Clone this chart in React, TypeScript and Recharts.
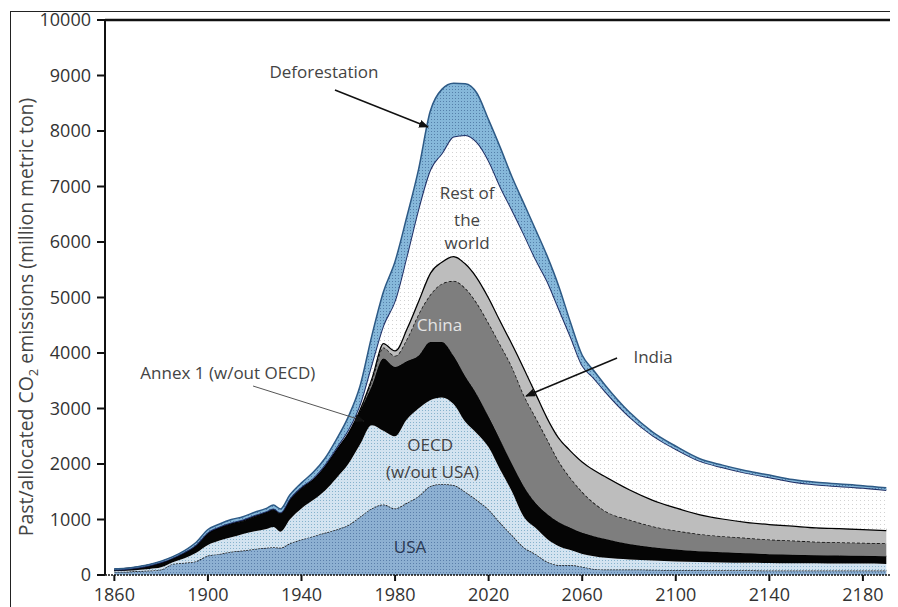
import { Area, AreaChart, Label, ReferenceDot, ReferenceLine, XAxis, YAxis } from "recharts";

const FONT = "'Open Sans', 'Liberation Sans', sans-serif";

const years = [
  1860, 1865, 1870, 1875, 1880, 1885, 1890, 1895, 1900, 1905, 1910, 1915, 1920, 1925, 1928, 1931,
  1935, 1940, 1945, 1950, 1955, 1960, 1965, 1970, 1975, 1980, 1985, 1990, 1995, 2000, 2005, 2010,
  2015, 2020, 2025, 2030, 2035, 2040, 2045, 2050, 2055, 2060, 2065, 2070, 2080, 2090, 2100, 2110,
  2120, 2130, 2140, 2150, 2160, 2170, 2180, 2190,
];

// million metric ton per layer (stacked bottom -> top)
const usa = [
  60, 60, 70, 80, 100, 200, 220, 250, 350, 380, 420, 440, 470, 490, 500, 490,
  570, 640, 700, 760, 820, 900, 1050, 1200, 1270, 1200, 1300, 1420, 1600, 1640, 1620, 1500,
  1350, 1180, 940, 720, 500, 380, 240, 180, 180, 150, 110, 100, 100, 95, 90, 90,
  85, 85, 80, 80, 80, 80, 80, 80,
];
const oecdNoUsa = [
  10, 15, 20, 30, 40, 30, 80, 150, 190, 240, 260, 300, 320, 340, 365, 290,
  430, 560, 650, 760, 930, 1100, 1300, 1500, 1330, 1300, 1500, 1580, 1550, 1560, 1460, 1260,
  1200, 1120, 950, 780, 550, 470, 410, 340, 270, 230, 230, 210, 180, 165, 155, 145,
  140, 135, 135, 130, 130, 125, 125, 120,
];
const annex1 = [
  20, 25, 35, 55, 80, 70, 100, 130, 210, 230, 240, 230, 260, 290, 305, 320,
  350, 360, 360, 430, 500, 550, 600, 700, 1300, 1250, 1050, 950, 1050, 1000, 870, 820,
  700, 550, 540, 500, 550, 450, 450, 430, 400, 380, 360, 340, 280, 240, 215, 195,
  185, 170, 160, 155, 145, 145, 140, 140,
];
const china = [
  3, 3, 3, 3, 4, 4, 5, 6, 6, 7, 8, 10, 10, 10, 10, 10,
  10, 10, 10, 10, 10, 10, 30, 100, 200, 200, 400, 750, 850, 1050, 1350, 1590,
  1650, 1690, 1720, 1750, 1650, 1550, 1350, 1100, 900, 740, 600, 500, 440, 380, 340, 310,
  290, 280, 265, 255, 245, 240, 235, 230,
];
const india = [
  3, 3, 3, 3, 4, 4, 5, 6, 6, 7, 8, 10, 10, 10, 10, 10,
  10, 10, 10, 10, 10, 10, 20, 60, 80, 100, 200, 250, 400, 400, 450, 450,
  470, 470, 440, 430, 500, 450, 400, 430, 500, 550, 600, 630, 550, 480, 420, 360,
  320, 290, 280, 270, 260, 255, 250, 240,
];
const restOfWorld = [
  4, 4, 4, 4, 4, 4, 5, 8, 8, 8, 9, 10, 10, 10, 10, 10,
  10, 10, 20, 20, 30, 50, 80, 240, 320, 900, 1300, 1650, 1850, 1950, 2150, 2310,
  2430, 2460, 2410, 2400, 2400, 2400, 2450, 2320, 2050, 1730, 1650, 1520, 1310, 1160, 1050, 960,
  920, 880, 840, 790, 770, 755, 740, 720,
];
const deforestation = [
  10, 10, 15, 15, 18, 18, 25, 40, 50, 48, 55, 50, 50, 50, 60, 60,
  60, 70, 100, 110, 150, 230, 320, 500, 600, 700, 700, 700, 1050, 1150, 960, 920,
  880, 730, 700, 590, 550, 530, 450, 400, 250, 180, 130, 110, 80, 60, 50, 40,
  40, 40, 40, 40, 40, 40, 40, 40,
];

const yearTicks = [1860, 1900, 1940, 1980, 2020, 2060, 2100, 2140, 2180];
const valueTicks = [0, 1000, 2000, 3000, 4000, 5000, 6000, 7000, 8000, 9000, 10000];

const rows = years.map((year, i) => ({
  year,
  usa: usa[i],
  oecd: oecdNoUsa[i],
  annex: annex1[i],
  china: china[i],
  india: india[i],
  row: restOfWorld[i],
  defo: deforestation[i],
}));

function YTitle() {
  return (
    <text
      transform="rotate(-90)"
      x={-309}
      y={25}
      textAnchor="middle"
      fontSize={19.4}
      fill="#444"
      fontFamily={FONT}
    >
      Past/allocated CO
      <tspan fontSize={13} dy={5}>2</tspan>
      <tspan dy={-5}> emissions (million metric ton)</tspan>
    </text>
  );
}

function note(text: string, fill = "#444") {
  return { value: text, position: "center" as const, fill, fontSize: 17, fontFamily: FONT };
}

export default function App() {
  return (
    <div style={{ position: "relative", width: 890, height: 599, overflow: "hidden", fontFamily: FONT }}>
      <div
        style={{
          position: "absolute",
          left: 2,
          top: 3,
          width: 1000,
          height: 800,
          borderLeft: "1px solid #222",
          borderTop: "1px solid #222",
        }}
      />
      <div style={{ position: "absolute", left: 0, top: 0 }}>
        <AreaChart width={890} height={599} data={rows} margin={{ top: 12, right: 0, left: 0, bottom: 0 }}>
          <defs>
            <pattern id="pUsa" width="3" height="3" patternUnits="userSpaceOnUse">
              <rect width="3" height="3" fill="#8db0d2" />
              <rect width="1" height="1" fill="#5a7eaa" />
            </pattern>
            <pattern id="pOecd" width="3" height="3" patternUnits="userSpaceOnUse">
              <rect width="3" height="3" fill="#d3e3f0" />
              <rect width="1" height="1" fill="#86b2cc" />
            </pattern>
            <pattern id="pRow" width="4" height="4" patternUnits="userSpaceOnUse">
              <rect width="4" height="4" fill="#ffffff" />
              <rect width="1" height="1" fill="#d2d2d2" />
            </pattern>
            <pattern id="pDefo" width="3" height="3" patternUnits="userSpaceOnUse">
              <rect width="3" height="3" fill="#86b8da" />
              <rect width="1" height="1" fill="#5580aa" />
            </pattern>
            <marker
              id="arrowHead"
              markerWidth="10"
              markerHeight="8"
              refX="9"
              refY="4"
              orient="auto"
              markerUnits="userSpaceOnUse"
            >
              <path d="M0,0 L10,4 L0,8 z" fill="#111" />
            </marker>
          </defs>
          <XAxis
            dataKey="year"
            type="number"
            domain={[1856, 2195]}
            ticks={yearTicks}
            tickSize={6}
            tickMargin={7}
            height={32}
            axisLine={{ stroke: "#111", strokeWidth: 1.5, strokeDasharray: "2 1" }}
            tickLine={{ stroke: "#111", strokeWidth: 2 }}
            tick={{ fontSize: 18, fill: "#333", fontFamily: FONT }}
          />
          <YAxis
            type="number"
            domain={[0, 10000]}
            ticks={valueTicks}
            width={97}
            tickSize={8}
            tickMargin={6}
            axisLine={{ stroke: "#111", strokeWidth: 2 }}
            tickLine={{ stroke: "#111", strokeWidth: 2 }}
            tick={{ fontSize: 18, fill: "#333", fontFamily: FONT }}
          >
            <Label content={() => <YTitle />} />
          </YAxis>
          <Area type="monotone" dataKey="usa" stackId="s" fill="url(#pUsa)" fillOpacity={1} stroke="#1a1a1a" strokeWidth={1.5} strokeDasharray="2 1" isAnimationActive={false} />
          <Area type="monotone" dataKey="oecd" stackId="s" fill="url(#pOecd)" fillOpacity={1} stroke="none" isAnimationActive={false} />
          <Area type="monotone" dataKey="annex" stackId="s" fill="#050505" fillOpacity={1} stroke="#000" strokeWidth={1} isAnimationActive={false} />
          <Area type="monotone" dataKey="china" stackId="s" fill="#7e7e7e" fillOpacity={1} stroke="#111" strokeWidth={1.5} strokeDasharray="3 2" isAnimationActive={false} />
          <Area type="monotone" dataKey="india" stackId="s" fill="#bdbdbd" fillOpacity={1} stroke="#000" strokeWidth={2.5} isAnimationActive={false} />
          <Area type="monotone" dataKey="row" stackId="s" fill="url(#pRow)" fillOpacity={1} stroke="#1f2f66" strokeWidth={2} isAnimationActive={false} />
          <Area type="monotone" dataKey="defo" stackId="s" fill="url(#pDefo)" fillOpacity={1} stroke="#2d5a86" strokeWidth={1.5} isAnimationActive={false} />

          <ReferenceLine y={10000} stroke="#111" strokeWidth={2.5} />

          <ReferenceLine
            segment={[{ x: 1954.3, y: 8739 }, { x: 1994.1, y: 8072 }]}
            stroke="#111"
            strokeWidth={1.5}
            markerEnd="url(#arrowHead)"
          />
          <ReferenceLine
            segment={[{ x: 2074.9, y: 3910 }, { x: 2036, y: 3225 }]}
            stroke="#111"
            strokeWidth={1.5}
            markerEnd="url(#arrowHead)"
          />
          <ReferenceLine
            segment={[{ x: 1919.3, y: 3405 }, { x: 1966.7, y: 2775 }]}
            stroke="#555"
            strokeWidth={1}
            markerEnd="url(#arrowHead)"
          />

          <ReferenceDot x={1949.6} y={9063} r={0} stroke="none" fill="none" label={note("Deforestation")} />
          <ReferenceDot x={2010.8} y={6883} r={0} stroke="none" fill="none" label={note("Rest of")} />
          <ReferenceDot x={2010.8} y={6396} r={0} stroke="none" fill="none" label={note("the")} />
          <ReferenceDot x={2010.8} y={5982} r={0} stroke="none" fill="none" label={note("world")} />
          <ReferenceDot x={1999} y={4505} r={0} stroke="none" fill="none" label={note("China", "#e4e4e4")} />
          <ReferenceDot x={2090.3} y={3928} r={0} stroke="none" fill="none" label={note("India")} />
          <ReferenceDot x={1908.5} y={3640} r={0} stroke="none" fill="none" label={note("Annex 1 (w/out OECD)")} />
          <ReferenceDot x={1995} y={2342} r={0} stroke="none" fill="none" label={note("OECD")} />
          <ReferenceDot x={1996} y={1856} r={0} stroke="none" fill="none" label={note("(w/out USA)")} />
          <ReferenceDot x={1986.4} y={505} r={0} stroke="none" fill="none" label={note("USA", "#2a3a55")} />
        </AreaChart>
      </div>
    </div>
  );
}
